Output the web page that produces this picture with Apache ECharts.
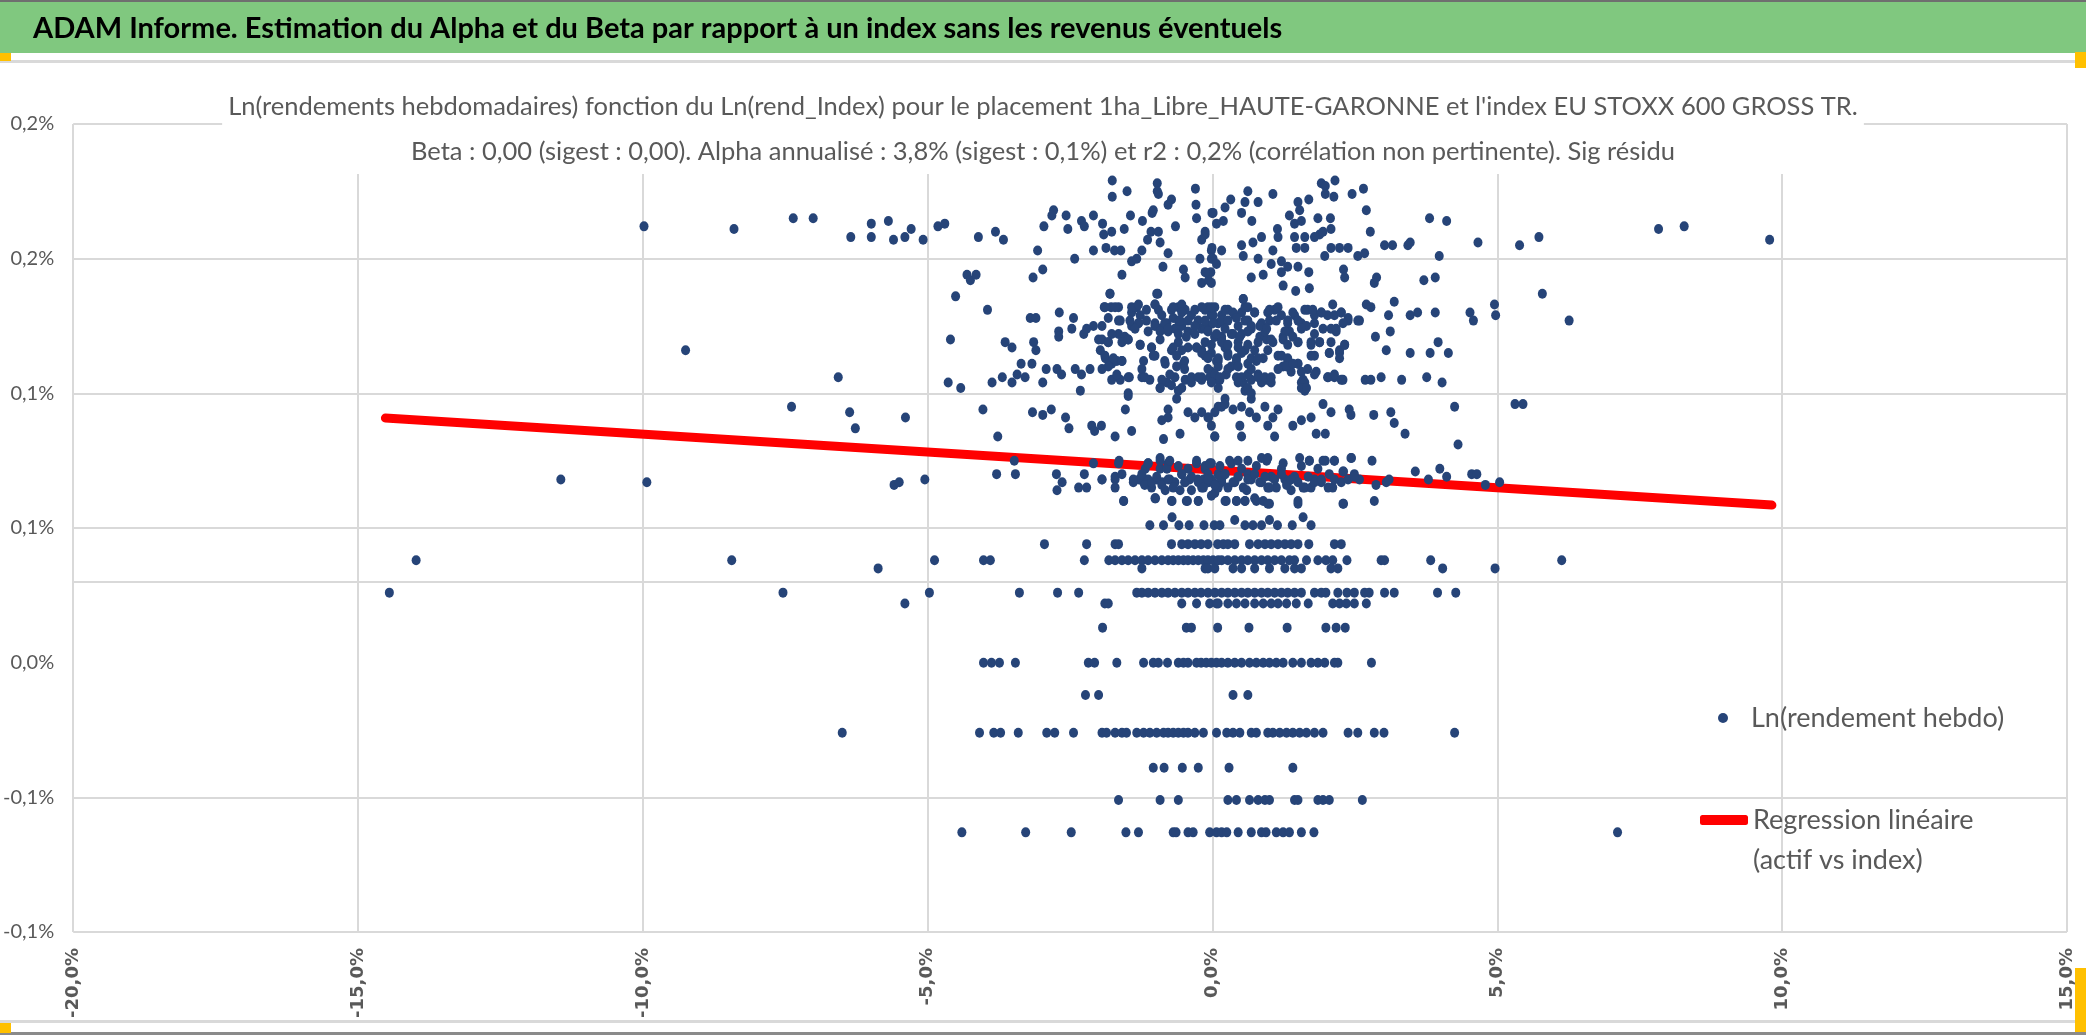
<!DOCTYPE html>
<html>
<head>
<meta charset="utf-8">
<title>ADAM Informe - Alpha et Beta</title>
<script src="https://cdn.jsdelivr.net/npm/echarts@6/dist/echarts.min.js"></script>
<style>
  html, body { margin: 0; padding: 0; background: #fff; }
  #chart { width: 2086px; height: 1035px; }
</style>
</head>
<body>
<div id="chart"></div>
<script>
const FONT = "Lato, 'Liberation Sans', Arial, sans-serif";
const GRAY_TEXT = '#595959';
const GRID_GRAY = '#d9d9d9';

const headerText = 'ADAM Informe. Estimation du Alpha et du Beta par rapport à un index sans les revenus éventuels';
const titleLine1 = "Ln(rendements hebdomadaires) fonction du Ln(rend_Index) pour le placement 1ha_Libre_HAUTE-GARONNE et l'index EU STOXX 600 GROSS TR.";
const titleLine2 = 'Beta : 0,00 (sigest : 0,00). Alpha annualisé : 3,8% (sigest : 0,1%) et r2 : 0,2% (corrélation non pertinente). Sig résidu';

// libellés des axes (x en %, y en %)
const xTickLabels = ['-20,0%', '-15,0%', '-10,0%', '-5,0%', '0,0%', '5,0%', '10,0%', '15,0%'];
const yTickLabels = ['-0,1%', '-0,1%', '0,0%', '0,1%', '0,1%', '0,2%', '0,2%'];

// ligne de l'axe horizontal (croise l'axe vertical vers 0,034%)
const axisCrossY = 0.034;

// droite de régression : [x %, y %]
const regressionLine = [[-14.52, 0.0908], [9.82, 0.0585]];

// rendements hebdo en paliers : abscisses (x %) par niveau y (%)
const row051 = [-1.10, -0.86, -0.59, -0.41, -0.15, 0.03, 0.13, 0.57, 0.71, 0.86, 1.14, 1.40, 1.73];
const row044 = [-2.95, -2.21, -1.71, -1.65, -0.72, -0.54, -0.43, -0.31, -0.20, -0.08, 0.09, 0.19, 0.27, 0.39, 0.65, 0.80, 0.92, 1.03, 1.15, 1.27, 1.38, 1.50, 1.69, 2.14, 2.26];
const row038 = [-13.98, -8.44, -4.88, -4.02, -3.90, -2.25, -1.82, -1.71, -1.59, -1.48, -1.36, -1.24, -1.13, -1.01, -0.89, -0.78, -0.69, -0.60, -0.51, -0.43, -0.34, -0.25, -0.16, -0.08, 0.01, 0.10, 0.16, 0.27, 0.39, 0.51, 0.62, 0.74, 0.86, 0.97, 1.09, 1.21, 1.35, 1.44, 1.65, 1.85, 1.99, 2.11, 2.36, 2.96, 3.02, 3.83, 6.13];
const row035 = [-5.87, -1.24, -0.13, -0.08, 0.04, 0.36, 0.51, 0.74, 1.00, 1.27, 1.44, 1.56, 2.08, 2.20, 4.04, 4.96];
const row026 = [-14.45, -7.54, -4.97, -3.39, -2.72, -2.35, -1.33, -1.24, -1.13, -1.01, -0.89, -0.78, -0.66, -0.54, -0.43, -0.31, -0.20, -0.08, 0.04, 0.16, 0.27, 0.39, 0.51, 0.62, 0.74, 0.86, 0.97, 1.09, 1.21, 1.32, 1.44, 1.56, 1.79, 1.91, 1.99, 2.20, 2.36, 2.49, 2.67, 2.75, 3.02, 3.19, 3.95, 4.27];
const row022 = [-5.40, -1.89, -1.83, -0.54, -0.28, -0.05, 0.07, 0.10, 0.27, 0.42, 0.57, 0.74, 0.89, 1.03, 1.15, 1.30, 1.47, 1.68, 2.11, 2.23, 2.35, 2.49, 2.70];
const row013 = [-1.93, -0.46, -0.37, 0.09, 0.64, 1.31, 1.99, 2.17, 2.33];
const row000 = [-4.02, -3.88, -3.74, -3.46, -2.18, -2.07, -1.68, -1.21, -1.04, -0.95, -0.79, -0.60, -0.51, -0.43, -0.28, -0.20, -0.11, -0.02, 0.07, 0.16, 0.27, 0.39, 0.51, 0.65, 0.77, 0.89, 1.00, 1.12, 1.24, 1.41, 1.56, 1.73, 1.85, 1.97, 2.14, 2.20, 2.79];
const rowM012 = [-2.23, -2.00, 0.36, 0.62];
const rowM026 = [-6.50, -4.09, -3.84, -3.72, -3.41, -2.91, -2.77, -2.44, -1.94, -1.86, -1.71, -1.59, -1.51, -1.33, -1.21, -1.10, -0.98, -0.86, -0.78, -0.69, -0.60, -0.51, -0.43, -0.31, -0.16, 0.07, 0.25, 0.36, 0.48, 0.68, 0.77, 0.97, 1.06, 1.18, 1.30, 1.41, 1.53, 1.65, 1.79, 1.94, 2.38, 2.55, 2.84, 3.01, 4.25];
const rowM039 = [-1.04, -0.85, -0.53, -0.25, 0.29, 1.41];
const rowM051 = [-1.65, -0.92, -0.60, 0.27, 0.42, 0.65, 0.80, 0.92, 1.00, 1.44, 1.50, 1.85, 1.94, 2.05, 2.63];
const rowM063 = [-4.40, -3.28, -2.48, -1.52, -1.30, -0.69, -0.64, -0.43, -0.34, -0.05, 0.07, 0.16, 0.25, 0.45, 0.68, 0.86, 0.94, 1.12, 1.24, 1.35, 1.56, 1.78, 7.11];

const rowLevels = [0.051, 0.044, 0.038, 0.035, 0.026, 0.022, 0.013, 0, -0.012, -0.026, -0.039, -0.051, -0.063];
const rowValues = [row051, row044, row038, row035, row026, row022, row013, row000, rowM012, rowM026, rowM039, rowM051, rowM063];

// points isolés : [x %, y %]
const offRowPoints = [[-0.71, 0.054], [0.39, 0.053], [1.00, 0.053], [1.59, 0.054]];

const farPoints = [
  [-9.98, 0.162], [-8.40, 0.161], [-7.36, 0.165], [-7.01, 0.165], [-6.35, 0.158], [-5.99, 0.163],
  [-5.99, 0.158], [-5.69, 0.164], [-5.60, 0.157], [-9.25, 0.116], [-6.57, 0.106], [-7.39, 0.095],
  [-6.37, 0.093], [-6.27, 0.087], [-5.39, 0.091], [-11.44, 0.068], [-9.93, 0.067], [-5.59, 0.066],
  [-5.50, 0.067], [5.39, 0.155], [5.73, 0.158], [7.83, 0.161], [8.28, 0.162], [9.78, 0.157],
  [5.79, 0.137], [6.26, 0.127], [5.31, 0.096], [5.45, 0.096]
];

const upperPoints = [
  [-1.76, 0.179], [-1.76, 0.173], [-1.50, 0.175], [-0.97, 0.178], [-0.95, 0.174], [-0.97, 0.175],
  [-0.30, 0.176], [-0.29, 0.170], [-0.28, 0.165], [-0.72, 0.172], [-0.78, 0.170], [-2.79, 0.168],
  [-2.82, 0.166], [-2.57, 0.166], [-2.54, 0.161], [-2.96, 0.162], [-2.30, 0.164], [-2.25, 0.162],
  [-2.09, 0.166], [-1.93, 0.163], [-1.77, 0.160], [-1.91, 0.159], [-1.55, 0.161], [-1.44, 0.166],
  [-1.23, 0.164], [-1.06, 0.167], [-1.04, 0.168], [-1.08, 0.160], [-0.95, 0.160], [-0.92, 0.156],
  [-1.14, 0.157], [-1.24, 0.153], [-0.78, 0.152], [-0.65, 0.162], [-1.87, 0.154], [-1.72, 0.153],
  [-1.61, 0.153], [-2.09, 0.153], [-2.42, 0.150], [-3.07, 0.153], [-2.98, 0.146], [-3.15, 0.143],
  [-1.42, 0.149], [-1.33, 0.150], [-0.87, 0.147], [-0.51, 0.146], [-0.48, 0.143], [-1.59, 0.144],
  [-0.01, 0.167], [-0.13, 0.160], [-0.19, 0.157], [-0.02, 0.153], [0.01, 0.150], [-0.22, 0.150],
  [-0.03, 0.145], [-0.19, 0.141], [-0.07, 0.142], [-1.80, 0.137], [-0.96, 0.137], [-5.40, 0.158],
  [-5.29, 0.161], [-5.08, 0.157], [-4.82, 0.162], [-4.70, 0.163], [-4.11, 0.158], [-3.81, 0.160],
  [-3.67, 0.157], [-4.31, 0.144], [-4.25, 0.142], [-4.15, 0.144], [-4.51, 0.136], [-3.95, 0.131],
  [-4.60, 0.120], [-4.64, 0.104], [-4.42, 0.102], [-4.03, 0.094], [-3.77, 0.084], [-5.05, 0.068],
  [1.91, 0.178], [1.98, 0.177], [2.15, 0.179], [2.13, 0.173], [1.98, 0.174], [2.65, 0.176],
  [2.45, 0.174], [2.70, 0.168], [2.77, 0.160], [1.69, 0.172], [1.50, 0.171], [1.53, 0.168],
  [1.35, 0.166], [1.44, 0.163], [1.56, 0.164], [1.85, 0.165], [2.07, 0.165], [2.08, 0.161],
  [1.88, 0.159], [1.79, 0.158], [1.94, 0.160], [1.44, 0.158], [1.62, 0.158], [1.47, 0.154],
  [1.62, 0.154], [1.14, 0.161], [1.15, 0.158], [1.06, 0.174], [0.80, 0.171], [0.62, 0.175],
  [0.57, 0.171], [0.51, 0.167], [0.32, 0.172], [0.22, 0.169], [0.01, 0.167], [0.19, 0.164],
  [0.07, 0.163], [-0.13, 0.159], [-0.01, 0.154], [0.16, 0.153], [0.51, 0.155], [0.71, 0.156],
  [0.86, 0.158], [0.69, 0.164], [1.06, 0.153], [0.80, 0.150], [0.54, 0.151], [2.08, 0.154],
  [2.23, 0.154], [2.38, 0.154], [1.97, 0.151], [2.55, 0.151], [2.67, 0.152], [3.02, 0.155],
  [3.16, 0.155], [3.43, 0.155], [3.47, 0.156], [3.81, 0.165], [4.11, 0.164], [3.98, 0.151],
  [4.66, 0.156], [-0.02, 0.150], [-0.13, 0.145], [-0.02, 0.141], [0.07, 0.148], [1.21, 0.149],
  [1.32, 0.147], [1.50, 0.147], [1.03, 0.148], [0.89, 0.144], [0.68, 0.143], [1.21, 0.145],
  [1.24, 0.140], [1.46, 0.138], [1.69, 0.145], [1.70, 0.139], [2.30, 0.146], [2.32, 0.143],
  [2.84, 0.141], [2.88, 0.143], [3.71, 0.142], [3.91, 0.143], [0.54, 0.135]
];

const middlePoints = [
  [-3.20, 0.128], [-3.10, 0.128], [-2.69, 0.130], [-2.44, 0.128], [-2.70, 0.123], [-2.70, 0.121],
  [-2.47, 0.124], [-2.26, 0.122], [-2.21, 0.124], [-2.09, 0.125], [-1.94, 0.125], [-1.90, 0.132],
  [-1.78, 0.132], [-1.65, 0.132], [-1.62, 0.127], [-1.65, 0.122], [-2.00, 0.120], [-1.97, 0.116],
  [-1.83, 0.119], [-1.88, 0.113], [-1.77, 0.111], [-1.68, 0.112], [-1.59, 0.112], [-1.48, 0.120],
  [-1.42, 0.130], [-1.33, 0.132], [-1.27, 0.129], [-1.16, 0.131], [-1.42, 0.125], [-1.30, 0.126],
  [-1.13, 0.123], [-1.01, 0.133], [-0.95, 0.131], [-1.01, 0.126], [-0.92, 0.124], [-0.80, 0.126],
  [-0.72, 0.131], [-0.60, 0.132], [-0.48, 0.131], [-0.37, 0.129], [-0.25, 0.127], [-0.13, 0.131],
  [0.04, 0.132], [-0.78, 0.123], [-0.66, 0.124], [-0.54, 0.125], [-0.43, 0.123], [-0.31, 0.122],
  [-0.19, 0.124], [-0.07, 0.125], [0.04, 0.121], [0.16, 0.121], [-1.27, 0.118], [-1.07, 0.117],
  [-1.01, 0.114], [-0.83, 0.111], [-0.72, 0.116], [-0.60, 0.119], [-0.51, 0.111], [-0.43, 0.117],
  [-0.28, 0.117], [-0.13, 0.114], [-0.02, 0.115], [0.10, 0.112], [-3.64, 0.119], [-3.52, 0.117],
  [-3.36, 0.111], [-3.14, 0.119], [-3.10, 0.116], [-3.17, 0.111], [-2.92, 0.109], [-2.73, 0.109],
  [-2.65, 0.107], [-2.41, 0.109], [-2.30, 0.107], [-2.15, 0.109], [-1.94, 0.109], [-1.77, 0.105],
  [-1.62, 0.105], [-1.46, 0.106], [-1.24, 0.106], [-1.10, 0.105], [-0.92, 0.102], [-0.80, 0.104],
  [-0.66, 0.106], [-0.48, 0.105], [-0.37, 0.104], [-0.19, 0.105], [-0.05, 0.106], [0.10, 0.105],
  [-3.87, 0.104], [-3.69, 0.106], [-3.52, 0.104], [-3.43, 0.107], [-3.29, 0.106], [-2.98, 0.104],
  [-2.32, 0.101], [-1.48, 0.099], [-1.53, 0.094], [-1.42, 0.086], [-1.71, 0.084], [-2.12, 0.088],
  [-2.07, 0.086], [-1.95, 0.088], [-2.58, 0.091], [-2.52, 0.087], [-3.16, 0.093], [-2.98, 0.092],
  [-2.83, 0.094], [-0.60, 0.101], [-0.63, 0.098], [-0.78, 0.094], [-0.89, 0.090], [-0.78, 0.091],
  [-0.43, 0.093], [-0.31, 0.091], [-0.19, 0.093], [-0.07, 0.091], [0.10, 0.095], [-0.57, 0.085],
  [-0.86, 0.083], [0.04, 0.084], [-0.02, 0.088], [-0.89, 0.129], [-0.60, 0.127], [-0.31, 0.131],
  [-0.02, 0.129], [0.10, 0.126],
  [3.09, 0.129], [3.47, 0.129], [3.60, 0.130], [3.91, 0.130], [4.52, 0.130], [4.58, 0.127],
  [4.95, 0.133], [4.97, 0.129], [2.58, 0.127], [3.12, 0.123], [2.86, 0.121], [3.05, 0.116],
  [3.47, 0.115], [3.82, 0.115], [3.96, 0.119], [4.14, 0.115], [3.32, 0.105], [3.76, 0.106],
  [4.03, 0.104], [2.96, 0.106], [2.68, 0.105], [2.78, 0.105], [4.25, 0.095], [4.31, 0.081],
  [3.19, 0.134], [2.70, 0.133], [2.78, 0.132],
  [-0.08, 0.132], [0.01, 0.129], [0.16, 0.129], [0.27, 0.131], [0.39, 0.129], [0.51, 0.130],
  [0.62, 0.127], [0.74, 0.130], [0.86, 0.126], [0.97, 0.130], [1.09, 0.131], [1.21, 0.129],
  [1.32, 0.127], [1.44, 0.129], [1.56, 0.126], [1.67, 0.131], [1.79, 0.129], [1.91, 0.130],
  [2.02, 0.129], [2.14, 0.129], [2.26, 0.130], [2.38, 0.127], [-0.13, 0.124], [0.04, 0.121],
  [0.16, 0.120], [0.33, 0.122], [0.51, 0.122], [0.68, 0.124], [0.83, 0.121], [0.95, 0.120],
  [1.06, 0.119], [1.24, 0.121], [1.35, 0.123], [1.50, 0.119], [1.73, 0.119], [1.88, 0.119],
  [2.17, 0.123], [2.32, 0.118], [-0.19, 0.116], [-0.08, 0.114], [0.07, 0.112], [0.27, 0.115],
  [0.42, 0.113], [0.57, 0.116], [0.62, 0.111], [0.77, 0.112], [0.89, 0.113], [1.15, 0.114],
  [1.32, 0.112], [1.50, 0.111], [1.79, 0.114], [2.05, 0.115], [2.23, 0.115], [-0.19, 0.106],
  [-0.02, 0.108], [0.13, 0.105], [0.24, 0.107], [0.42, 0.106], [0.54, 0.104], [0.68, 0.105],
  [0.80, 0.107], [0.95, 0.105], [1.03, 0.104], [0.68, 0.098], [1.24, 0.110], [1.38, 0.108],
  [1.56, 0.104], [1.67, 0.109], [1.82, 0.108], [2.02, 0.106], [2.14, 0.106], [2.29, 0.105],
  [1.62, 0.101], [1.59, 0.105], [0.10, 0.126], [0.45, 0.125], [0.57, 0.132], [0.92, 0.123],
  [0.22, 0.117], [0.45, 0.119], [0.74, 0.116], [0.97, 0.116], [0.10, 0.110], [0.33, 0.110],
  [0.62, 0.107], [0.86, 0.104], [0.57, 0.101],
  [-0.08, 0.091], [0.04, 0.093], [0.16, 0.095], [0.22, 0.096], [0.36, 0.094], [0.51, 0.095],
  [0.65, 0.093], [0.77, 0.091], [0.92, 0.095], [1.06, 0.091], [1.15, 0.094], [1.41, 0.088],
  [1.56, 0.090], [1.73, 0.091], [1.82, 0.085], [1.98, 0.085], [1.94, 0.096], [2.08, 0.093],
  [2.40, 0.094], [2.43, 0.092], [2.83, 0.092], [3.13, 0.093], [3.19, 0.089], [3.38, 0.085],
  [0.04, 0.084], [0.51, 0.084], [1.09, 0.084], [0.48, 0.088], [0.97, 0.088]
];

// amas central dense (lu sur un agrandissement)
const coreCluster = [
  [-1.80, 0.137], [-1.89, 0.132], [-1.71, 0.132], [-1.42, 0.132], [-1.30, 0.133], [-1.01, 0.133],
  [-0.98, 0.137], [-0.69, 0.132], [-0.54, 0.133], [-0.54, 0.130], [-0.19, 0.132], [-0.02, 0.132],
  [0.22, 0.131], [0.36, 0.130], [0.54, 0.135], [0.62, 0.132], [0.74, 0.130], [1.00, 0.131],
  [1.15, 0.132], [1.41, 0.130], [1.62, 0.131], [1.76, 0.131], [1.91, 0.130], [2.11, 0.133],
  [2.26, 0.130], [2.38, 0.128], [2.55, 0.127], [-1.83, 0.128], [-1.65, 0.127], [-1.45, 0.127],
  [-1.30, 0.126], [-1.16, 0.127], [-1.01, 0.125], [-0.84, 0.126], [-0.69, 0.128], [-0.57, 0.127],
  [-0.43, 0.127], [-0.31, 0.125], [-0.13, 0.127], [0.01, 0.126], [0.16, 0.127], [0.27, 0.127],
  [0.42, 0.128], [0.57, 0.127], [0.68, 0.125], [0.83, 0.125], [1.00, 0.127], [1.12, 0.127],
  [1.32, 0.126], [1.50, 0.127], [1.65, 0.125], [1.79, 0.126], [1.94, 0.124], [2.08, 0.124],
  [2.17, 0.124], [2.29, 0.126], [-1.77, 0.122], [-1.54, 0.121], [-1.36, 0.124], [-0.92, 0.123],
  [-0.78, 0.124], [-0.60, 0.122], [-0.46, 0.121], [-0.08, 0.123], [0.07, 0.122], [0.22, 0.124],
  [0.36, 0.122], [0.48, 0.121], [0.62, 0.123], [0.95, 0.124], [1.27, 0.123], [1.41, 0.121],
  [1.56, 0.124], [1.79, 0.122], [-1.94, 0.120], [-1.83, 0.119], [-1.59, 0.119], [-1.48, 0.120],
  [-1.27, 0.118], [-1.07, 0.117], [-0.92, 0.120], [-0.69, 0.117], [-0.54, 0.116], [-0.28, 0.117],
  [-0.13, 0.119], [-0.02, 0.118], [0.16, 0.119], [0.27, 0.118], [0.45, 0.117], [0.62, 0.118],
  [0.80, 0.119], [1.03, 0.120], [1.24, 0.120], [1.32, 0.118], [1.50, 0.119], [1.73, 0.118],
  [1.88, 0.119], [2.08, 0.119], [2.23, 0.116], [2.32, 0.118], [-1.89, 0.114], [-1.74, 0.113],
  [-1.59, 0.112], [-1.21, 0.112], [-1.04, 0.114], [-0.84, 0.112], [-0.63, 0.114], [-0.49, 0.112],
  [-0.19, 0.115], [-0.08, 0.113], [0.10, 0.113], [0.27, 0.114], [0.42, 0.112], [0.51, 0.115],
  [0.68, 0.113], [0.80, 0.113], [1.21, 0.114], [1.32, 0.113], [1.50, 0.111], [1.73, 0.114],
  [2.05, 0.115], [2.23, 0.113], [-1.83, 0.110], [-1.68, 0.107], [-1.48, 0.106], [-1.24, 0.109],
  [-1.19, 0.106], [-0.89, 0.105], [-0.75, 0.107], [-0.63, 0.110], [-0.49, 0.109], [-0.37, 0.106],
  [-0.25, 0.106], [-0.08, 0.109], [0.04, 0.107], [0.13, 0.106], [0.27, 0.109], [0.45, 0.110],
  [0.51, 0.106], [0.68, 0.109], [0.80, 0.106], [0.92, 0.106], [1.03, 0.106], [1.15, 0.109],
  [1.30, 0.110], [1.41, 0.111], [1.56, 0.108], [1.62, 0.104], [1.79, 0.107], [2.03, 0.106],
  [2.14, 0.107], [2.26, 0.105], [-1.48, 0.100], [-0.92, 0.102], [-0.72, 0.103], [-0.54, 0.102],
  [-0.02, 0.104], [0.10, 0.102], [0.45, 0.104], [0.62, 0.102], [0.68, 0.100], [0.22, 0.098],
  [1.56, 0.102], [1.65, 0.102]
];

const bandPoints = [
  [-3.48, 0.075], [-3.79, 0.070], [-3.46, 0.070], [-2.74, 0.070], [-2.64, 0.067], [-2.73, 0.064],
  [-2.35, 0.065], [-2.21, 0.065], [-2.25, 0.070], [-2.09, 0.074], [-1.94, 0.068], [-1.71, 0.068],
  [-1.71, 0.065], [-1.64, 0.075], [-1.56, 0.060], [-1.39, 0.067],
  [-1.29, 0.068], [-1.21, 0.067], [-1.13, 0.074], [-1.13, 0.068], [-1.07, 0.065], [-1.00, 0.061],
  [-0.92, 0.076], [-0.92, 0.072], [-0.89, 0.067], [-0.83, 0.064], [-0.78, 0.074], [-0.75, 0.068],
  [-0.71, 0.060], [-0.66, 0.067], [-0.57, 0.064], [-0.54, 0.070], [-0.48, 0.067], [-0.44, 0.060],
  [-0.43, 0.072], [-0.37, 0.064], [-0.28, 0.074], [-0.26, 0.068], [-0.25, 0.060], [-0.19, 0.065],
  [-0.13, 0.072], [-0.07, 0.067], [-0.02, 0.074], [0.04, 0.063], [0.10, 0.070], [0.16, 0.067],
  [-1.18, 0.072], [-0.98, 0.068], [-0.80, 0.072], [-0.60, 0.073], [-0.40, 0.068], [-0.16, 0.068],
  [0.01, 0.067], [0.13, 0.073],
  [-0.13, 0.073], [-0.02, 0.068], [0.10, 0.065], [0.22, 0.070], [0.33, 0.074], [0.39, 0.067],
  [0.51, 0.072], [0.60, 0.064], [0.68, 0.068], [0.77, 0.073], [0.86, 0.067], [0.95, 0.075],
  [1.03, 0.069], [1.12, 0.065], [1.21, 0.072], [1.32, 0.067], [1.44, 0.069], [1.56, 0.073],
  [1.62, 0.065], [1.70, 0.075], [1.79, 0.068], [1.91, 0.067], [1.98, 0.075], [2.05, 0.070],
  [2.14, 0.075], [2.26, 0.067], [2.30, 0.071], [2.44, 0.076], [2.49, 0.070], [2.58, 0.068],
  [2.80, 0.075], [2.87, 0.066], [3.05, 0.067], [3.10, 0.068], [3.56, 0.071], [3.79, 0.068],
  [3.99, 0.072], [4.11, 0.069], [4.55, 0.070], [4.64, 0.070], [4.79, 0.066], [5.04, 0.067],
  [0.24, 0.060], [0.42, 0.060], [0.57, 0.060], [0.74, 0.061], [0.89, 0.060], [1.50, 0.059],
  [2.30, 0.059], [2.84, 0.060], [-0.02, 0.062], [1.00, 0.059],
  [-0.08, 0.070], [0.16, 0.068], [0.45, 0.069], [0.62, 0.070], [0.97, 0.065], [1.27, 0.068],
  [1.38, 0.064], [1.73, 0.065], [1.85, 0.072], [2.11, 0.065]
];

// bande dense autour de la droite (lue sur un agrandissement)
const coreBand = [
  [-1.65, 0.074], [-1.13, 0.074], [-0.92, 0.075], [-0.75, 0.075], [-0.28, 0.075], [-0.05, 0.074],
  [0.30, 0.075], [0.45, 0.075], [0.62, 0.075], [0.86, 0.076], [0.97, 0.076], [1.24, 0.074],
  [1.53, 0.076], [1.70, 0.075], [1.94, 0.075], [2.14, 0.075], [2.43, 0.076], [-1.94, 0.068],
  [-1.71, 0.069], [-1.59, 0.070], [-1.39, 0.068], [-1.24, 0.070], [-1.19, 0.066], [-1.07, 0.067],
  [-0.98, 0.069], [-0.89, 0.066], [-0.78, 0.068], [-0.69, 0.065], [-0.54, 0.070], [-0.49, 0.067],
  [-0.37, 0.069], [-0.25, 0.067], [-0.16, 0.065], [-0.08, 0.068], [0.04, 0.066], [0.13, 0.069],
  [0.22, 0.070], [0.27, 0.065], [0.36, 0.067], [0.45, 0.069], [0.54, 0.065], [0.62, 0.068],
  [0.74, 0.070], [0.83, 0.067], [0.92, 0.069], [1.00, 0.065], [1.09, 0.068], [1.21, 0.070],
  [1.30, 0.066], [1.38, 0.068], [1.50, 0.067], [1.59, 0.065], [1.68, 0.069], [1.79, 0.067],
  [1.91, 0.068], [2.03, 0.065], [2.14, 0.068], [2.29, 0.071], [2.38, 0.068], [2.49, 0.069],
  [-1.56, 0.060], [-1.01, 0.061], [-0.72, 0.060], [-0.46, 0.060], [-0.25, 0.060], [0.22, 0.060],
  [0.42, 0.060], [0.57, 0.060], [0.77, 0.060], [0.97, 0.059], [1.50, 0.060], [2.29, 0.059]
];

const scatterData = [];
rowValues.forEach((xs, i) => {
  xs.forEach(x => scatterData.push([x, rowLevels[i]]));
});
[offRowPoints, farPoints, upperPoints, middlePoints, coreCluster, bandPoints, coreBand].forEach(list => {
  list.forEach(p => scatterData.push(p));
});

const SCATTER_NAME = 'Ln(rendement hebdo)';
const REG_NAME = 'Regression linéaire (actif vs index)';

const chart = echarts.init(document.getElementById('chart'));

const option = {
  animation: false,
  backgroundColor: '#ffffff',
  graphic: [
    // bandeau vert du haut
    { type: 'rect', shape: { x: 0, y: 0, width: 2086, height: 53 }, style: { fill: '#80c87f' }, z: -1 },
    { type: 'rect', shape: { x: 0, y: 0, width: 2086, height: 2 }, style: { fill: '#6f6f6f' }, z: -1 },
    { type: 'rect', shape: { x: 0, y: 60, width: 2086, height: 3 }, style: { fill: '#d9d9d9' }, z: -1 },
    { type: 'rect', shape: { x: 0, y: 1020, width: 2086, height: 3 }, style: { fill: '#d9d9d9' }, z: -1 },
    { type: 'rect', shape: { x: 0, y: 1032, width: 2086, height: 3 }, style: { fill: '#8a8a8a' }, z: -1 },
    // poignées jaunes
    { type: 'rect', shape: { x: 0, y: 53, width: 11, height: 8 }, style: { fill: '#ffc000' }, z: 10 },
    { type: 'rect', shape: { x: 2075, y: 52, width: 11, height: 16 }, style: { fill: '#ffc000' }, z: 10 },
    { type: 'rect', shape: { x: 0, y: 1023, width: 11, height: 10 }, style: { fill: '#ffc000' }, z: 10 },
    { type: 'rect', shape: { x: 2075, y: 968, width: 11, height: 64 }, style: { fill: '#ffc000' }, z: 10 }
  ],
  title: [
    {
      text: headerText,
      left: 33,
      top: 9,
      padding: 0,
      textStyle: { fontFamily: FONT, fontSize: 29, fontWeight: 'bold', color: '#000000', lineHeight: 40 }
    },
    {
      text: titleLine1 + '\n' + titleLine2,
      left: 'center',
      top: 84,
      padding: [0, 6, 0, 6],
      backgroundColor: '#ffffff',
      textStyle: { fontFamily: FONT, fontSize: 25.5, fontWeight: 'normal', color: GRAY_TEXT, lineHeight: 45 }
    }
  ],
  legend: [
    {
      data: [{ name: SCATTER_NAME, icon: 'circle' }],
      left: 1718,
      top: 700,
      padding: 0,
      itemWidth: 10,
      itemHeight: 10,
      selectedMode: false,
      textStyle: { fontFamily: FONT, fontSize: 27, color: GRAY_TEXT, lineHeight: 36, padding: [0, 0, 0, 18] }
    },
    {
      data: [{ name: REG_NAME, icon: 'roundRect' }],
      formatter: () => '\nRegression linéaire\n(actif vs index)',
      left: 1700,
      top: 760,
      padding: 0,
      itemWidth: 48,
      itemHeight: 10,
      selectedMode: false,
      textStyle: { fontFamily: FONT, fontSize: 27, color: GRAY_TEXT, lineHeight: 40 }
    }
  ],
  grid: { left: 70, right: 19, top: 124, bottom: 103 },
  xAxis: {
    type: 'value',
    min: -20,
    max: 15,
    interval: 5,
    axisLine: { show: false },
    axisTick: { show: false },
    splitLine: { show: true, lineStyle: { color: GRID_GRAY, width: 2 } },
    axisLabel: {
      rotate: 90,
      margin: 16,
      fontFamily: "'DejaVu Sans', Verdana, sans-serif",
      fontWeight: 'bold',
      fontSize: 18,
      color: GRAY_TEXT,
      formatter: v => xTickLabels[Math.round((v + 20) / 5)]
    }
  },
  yAxis: {
    type: 'value',
    min: -0.1,
    max: 0.2,
    interval: 0.05,
    axisLine: { show: false },
    axisTick: { show: false },
    splitLine: {
      show: true,
      lineStyle: {
        color: [GRID_GRAY, GRID_GRAY, 'rgba(0,0,0,0)', GRID_GRAY, GRID_GRAY, GRID_GRAY, GRID_GRAY],
        width: 2
      }
    },
    axisLabel: {
      margin: 19,
      fontFamily: FONT,
      fontSize: 20,
      color: GRAY_TEXT,
      formatter: v => yTickLabels[Math.round((v + 0.1) / 0.05)]
    }
  },
  series: [
    {
      name: REG_NAME,
      type: 'line',
      data: regressionLine,
      symbol: 'none',
      z: 1,
      color: '#ff0000',
      itemStyle: { color: '#ff0000' },
      lineStyle: { color: '#ff0000', width: 9, cap: 'round' },
      silent: true
    },
    {
      name: SCATTER_NAME,
      type: 'scatter',
      data: scatterData,
      symbol: 'circle',
      symbolSize: [9, 10],
      z: 2,
      itemStyle: { color: '#264478', opacity: 1 },
      markLine: {
        silent: true,
        symbol: ['none', 'none'],
        label: { show: false },
        lineStyle: { color: GRID_GRAY, width: 2, type: 'solid' },
        data: [{ yAxis: axisCrossY }],
        z: 0
      }
    }
  ]
};

chart.setOption(option);
window.addEventListener('resize', () => chart.resize());
</script>
</body>
</html>
